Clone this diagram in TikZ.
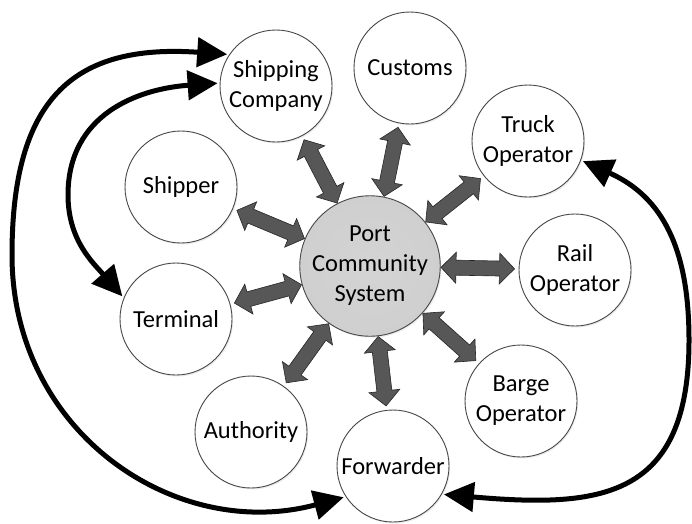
\documentclass[tikz,border=0pt]{standalone}
\usepackage{fontspec}
\setmainfont{Carlito}
\usetikzlibrary{calc,arrows.meta,shadows}
\pgfdeclareradialshading{rim}{\pgfpoint{0bp}{0bp}}{color(0bp)=(white); color(42bp)=(white); color(50bp)=(black!14)}
\pgfdeclareradialshading{pcsrim}{\pgfpoint{0bp}{0bp}}{color(0bp)=(black!17); color(42bp)=(black!20); color(50bp)=(black!32)}
\newcommand\darrow[4]{%
  \path ($(#1)!#2!(#3)$) coordinate (das) ($(#3)!#4!(#1)$) coordinate (dae);
  \draw[blockarrow] let \p1=($(dae)-(das)$), \n1={atan2(\y1,\x1)}, \n2={veclen(\x1,\y1)} in
    ([shift={(das)},rotate=\n1]0pt,0pt)
 -- ([shift={(das)},rotate=\n1]15pt,15.5pt)
 -- ([shift={(das)},rotate=\n1]15pt,7.5pt)
 -- ([shift={(das)},rotate=\n1]{\n2-15pt},7.5pt)
 -- ([shift={(das)},rotate=\n1]{\n2-15pt},15.5pt)
 -- ([shift={(das)},rotate=\n1]{\n2+0pt},0pt)
 -- ([shift={(das)},rotate=\n1]{\n2-15pt},-15.5pt)
 -- ([shift={(das)},rotate=\n1]{\n2-15pt},-7.5pt)
 -- ([shift={(das)},rotate=\n1]15pt,-7.5pt)
 -- ([shift={(das)},rotate=\n1]15pt,-15.5pt)
 -- cycle;}
\begin{document}
\begin{tikzpicture}[x=1pt,y=-1pt,
  party/.style={circle, draw=black!72, line width=0.9pt, minimum size=112pt, inner sep=0pt,
    shade, shading=rim, drop shadow={opacity=0.15, shadow xshift=1.2pt, shadow yshift=-1.5pt},
    align=center, font=\fontsize{24.5}{30}\selectfont},
  hub/.style={party, minimum size=134pt, shading=pcsrim},
  blockarrow/.style={fill=black!66, draw=black!85, line width=0.6pt, line join=miter},
  bigarrow/.style={line width=5pt, shorten <=2pt, shorten >=2pt,
    {Triangle[length=30pt,width=29pt]}-{Triangle[length=30pt,width=29pt]}}
]
\useasboundingbox (0,0) rectangle (692,523);
\node[party] (ship) at (276,86) {Shipping\\Company};
\node[party] (cust) at (410,68) {Customs};
\node[party] (truck) at (528,141) {Truck\\Operator};
\node[party] (rail) at (575,270) {Rail\\Operator};
\node[party] (barge) at (521,401) {Barge\\Operator};
\node[party] (fwd) at (393,466) {Forwarder};
\node[party] (auth) at (251,432) {Authority};
\node[party] (term) at (176,319) {Terminal};
\node[party] (shipper) at (181,187) {Shipper};
\node[hub] (pcs) at (370,266) {Port\\Community\\System};

\darrow{pcs}{71pt}{ship}{60.5pt}
\darrow{pcs}{71pt}{cust}{60.5pt}
\darrow{pcs}{71pt}{truck}{60.5pt}
\darrow{pcs}{71pt}{rail}{60.5pt}
\darrow{pcs}{71pt}{barge}{60.5pt}
\darrow{pcs}{71pt}{fwd}{60.5pt}
\darrow{pcs}{71pt}{auth}{60.5pt}
\darrow{pcs}{71pt}{term}{60.5pt}
\darrow{pcs}{71pt}{shipper}{60.5pt}

\coordinate (w1) at (12,255);
\coordinate (w2) at (68,195);
\coordinate (w3) at (689,340);
\draw[bigarrow] (ship.146) to[out=176,in=90,looseness=1.35] (w1) to[out=-90,in=195,looseness=1.1] (fwd.213);
\draw[bigarrow] (ship.177) to[out=184,in=90,looseness=1.1] (w2) to[out=-90,in=131] (term.158);
\draw[bigarrow] (truck.340) to[out=336,in=90,looseness=1.1] (w3) to[out=-90,in=355,looseness=1.4] (fwd.330);
\end{tikzpicture}
\end{document}
